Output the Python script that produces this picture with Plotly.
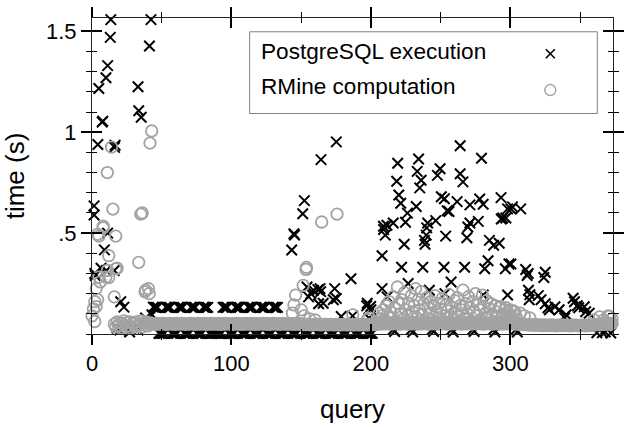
import plotly.graph_objects as go

# ---------------- data ----------------
# PostgreSQL execution: isolated points (query, seconds)
pg_q = [1.5, 1.5, 2, 2.3, 4.2, 4.9, 6.5, 7.3, 7.7, 8.9, 10, 10.3, 11.2, 11.2, 13.1, 13.5, 15.9, 16.2, 16.6,
        20.6, 22.9, 33, 33.5, 35.3, 38.4, 41.2, 42.3, 43,
        18, 20, 24, 27, 30, 33, 36,
        143.2, 144.8, 145.2, 151.1, 152.3, 154.2, 155.3, 157, 158.8, 162, 162.5, 163.5, 164, 164.2, 165.8,
        173, 174, 175.2, 175.2, 178.7, 185.7, 186.9, 197, 197.4, 198.6, 199.8, 200,
        208, 208, 209, 209.1, 210.3, 211.5, 211.6, 216, 218.5, 219.2, 220, 221.4, 222, 223.9, 224.8, 226.2,
        226.7, 232.5, 233.2, 234.2, 235, 236, 237.2, 238.4, 238.8, 239.7, 240, 240.7, 241.9, 246.5, 247.7,
        249.6, 250.5, 252.4, 252.7, 253.1, 253.6, 254.7, 256, 257.5, 261.8, 264, 264, 266, 267.2, 268.8,
        269.5, 271, 271, 277, 278, 279.3, 280.5, 280.5, 281.6, 284, 285, 288, 292, 293.3, 293.5, 294.5,
        296.4, 296.8, 298, 298, 299, 300.4, 300.4, 301.5, 307.4,
        311, 312, 312.8, 325, 324, 313, 314, 313.5, 320, 322, 325, 327, 328, 332, 335, 339, 340, 345, 346,
        348, 349, 353, 354, 356.5]
pg_t = [0.635, 0.59, 0.30, 0.29, 0.939, 1.217, 0.326, 1.05, 1.055, 0.417, 1.27, 0.315, 1.33, 0.50, 1.47, 1.558,
        0.315, 0.925, 0.936, 0.16, 0.133, 1.225, 1.106, 1.074, 0.079, 1.427, 1.558, 0.095,
        0.03, 0.02, 0.04, 0.01, 0.03, 0.02, 0.05,
        0.416, 0.497, 0.49, 0.596, 0.661, 0.233, 0.184, 0.2, 0.217, 0.22, 0.15, 0.225, 0.21, 0.864, 0.152,
        0.17, 0.225, 0.176, 0.952, 0.087, 0.274, 0.09, 0.14, 0.152, 0.079, 0.136, 0.12,
        0.388, 0.225, 0.534, 0.518, 0.49, 0.539, 0.184, 0.55, 0.757, 0.846, 0.689, 0.648, 0.331, 0.445, 0.554, 0.599,
        0.25, 0.632, 0.806, 0.867, 0.724, 0.762, 0.331, 0.464, 0.445, 0.49, 0.526, 0.55, 0.217, 0.562, 0.786,
        0.819, 0.68, 0.331, 0.67, 0.2, 0.485, 0.611, 0.607, 0.258, 0.656, 0.933, 0.794, 0.754, 0.331, 0.477,
        0.53, 0.55, 0.64, 0.558, 0.669, 0.871, 0.643, 0.193, 0.323, 0.363, 0.464, 0.44, 0.45, 0.676, 0.57, 0.575,
        0.323, 0.575, 0.62, 0.193, 0.347, 0.62, 0.347, 0.63, 0.62,
        0.32, 0.29, 0.30, 0.306, 0.28, 0.217, 0.195, 0.17, 0.19, 0.17, 0.15, 0.13, 0.12, 0.135, 0.12, 0.08, 0.095,
        0.177, 0.16, 0.14, 0.13, 0.135, 0.11, 0.103]

# PostgreSQL: plateau queries (~0.13 s)
pg_mid_q = [44, 45, 46, 47, 53, 54, 55, 56, 62, 63, 64, 65, 71, 72, 73, 74, 80, 81, 82, 83,
            94, 95, 96, 97, 103, 104, 105, 106, 112, 113, 114, 115, 121, 122, 123, 124, 130, 131, 132, 133]
pg_mid_t = [0.133, 0.132, 0.131, 0.132, 0.133, 0.132, 0.131, 0.132, 0.133, 0.132, 0.131, 0.132, 0.133, 0.132,
            0.131, 0.132, 0.133, 0.132, 0.131, 0.132,
            0.132, 0.133, 0.131, 0.132, 0.132, 0.133, 0.131, 0.132, 0.133, 0.132, 0.131, 0.132, 0.133, 0.132,
            0.131, 0.132, 0.133, 0.132, 0.131, 0.132]

# PostgreSQL: near-zero queries
pg_low_q = [48, 49, 50, 51, 52, 57, 58, 59, 60, 61, 66, 67, 68, 69, 70, 75, 76, 77, 78, 79, 84, 85, 86, 87, 88,
            89, 90, 91, 92, 93, 98, 99, 100, 101, 102, 107, 108, 109, 110, 111, 116, 117, 118, 119, 120,
            125, 126, 127, 128, 129, 134, 135, 136, 137, 138, 143, 144, 145, 146, 147, 152, 153, 154, 155, 156,
            161, 162, 163, 164, 165, 170, 171, 172, 173, 174, 179, 180, 181, 182, 183, 188, 189, 190, 191, 192,
            197, 198, 199, 200, 201,
            216, 217, 229, 230, 244, 245, 258, 259, 273, 274, 288, 289, 304, 305, 362, 366, 368, 372]
pg_low_t = [0.003, 0.003, 0.003, 0.003, 0.003, 0.003, 0.003, 0.003, 0.003, 0.003, 0.003, 0.003, 0.003, 0.003,
            0.003, 0.003, 0.003, 0.003, 0.003, 0.003, 0.003, 0.003, 0.003, 0.003, 0.003,
            0.003, 0.003, 0.003, 0.003, 0.003, 0.003, 0.003, 0.003, 0.003, 0.003, 0.003, 0.003, 0.003, 0.003,
            0.003, 0.003, 0.003, 0.003, 0.003, 0.003,
            0.003, 0.003, 0.003, 0.003, 0.003, 0.003, 0.003, 0.003, 0.003, 0.003, 0.003, 0.003, 0.003, 0.003,
            0.003, 0.003, 0.003, 0.003, 0.003, 0.003,
            0.003, 0.003, 0.003, 0.003, 0.003, 0.003, 0.003, 0.003, 0.003, 0.003, 0.003, 0.003, 0.003, 0.003,
            0.003, 0.003, 0.003, 0.003, 0.003, 0.003,
            0.003, 0.003, 0.003, 0.003, 0.003,
            0.022, 0.012, 0.022, 0.010, 0.022, 0.012, 0.022, 0.010, 0.022, 0.012, 0.022, 0.010, 0.022, 0.010,
            0.006, 0.006, 0.010, 0.005]

# RMine computation: isolated points
rm_q = [0, 1, 2, 2, 3, 3, 4, 4, 5, 5, 6, 8, 8, 10, 11, 11, 12, 12, 14, 15, 16, 17, 17, 18,
        16, 17, 18, 19, 20, 21, 22, 23, 24, 25, 26, 27, 28, 29, 30, 31, 32, 33, 34, 35, 36, 37, 38, 39, 40, 41,
        33.5, 35, 36, 38, 38.5, 40.5, 41, 41.6, 42.8,
        143.7, 144.8, 146, 151.4, 153.5, 153.8, 164.7, 175.7, 187, 197.4, 198.6, 150, 152, 156, 160,
        297, 300, 303, 307, 310, 314, 360, 364, 367, 370, 371, 373]
rm_t = [0.09, 0.125, 0.062, 0.16, 0.136, 0.225, 0.17, 0.494, 0.485, 0.282, 0.258, 0.526, 0.534, 0.282, 0.80,
        0.315, 0.388, 0.28, 0.926, 0.619, 0.184, 0.485, 0.323, 0.326,
        0.05, 0.035, 0.06, 0.04, 0.055, 0.03, 0.05, 0.065, 0.035, 0.055, 0.04, 0.06, 0.03, 0.05, 0.055, 0.035,
        0.06, 0.04, 0.05, 0.065, 0.035, 0.055, 0.045, 0.06, 0.04, 0.055,
        0.355, 0.594, 0.60, 0.209, 0.217, 0.225, 0.2, 0.946, 1.006,
        0.103, 0.144, 0.193, 0.241, 0.32, 0.33, 0.555, 0.594, 0.095, 0.071, 0.079, 0.12, 0.09, 0.075, 0.07,
        0.13, 0.12, 0.11, 0.103, 0.09, 0.08, 0.07, 0.085, 0.07, 0.09, 0.087, 0.075]

# RMine computation: consecutive queries 42..373 (ms)
rm_base_start = 42
rm_base_ms = [
    52, 49, 51, 50, 48, 52, 50, 49, 51, 53, 50, 48, 51, 50, 52, 49, 50, 51, 48, 52,
    50, 51, 49, 52, 50, 48, 51, 50, 49, 52, 51, 50, 48, 50, 52, 49, 51, 50, 52, 49,
    50, 48, 51, 52, 49, 50, 51, 49, 50, 52, 48, 51, 50, 49, 52, 50, 51, 49, 50, 48,
    51, 50, 52, 49, 50, 51, 48, 50, 52, 49, 51, 50, 49, 52, 50, 48, 51, 50, 49, 51,
    50, 52, 49, 50, 51, 48, 50, 49, 52, 50, 51, 49, 50, 48, 51, 52, 50, 49, 51, 50,
    49, 51, 50, 48, 52, 50, 49, 51, 50, 48, 47, 49, 46, 48, 47, 45, 48, 46, 47, 49,
    46, 48, 45, 47, 46, 48, 47, 45, 46, 48, 47, 46, 45, 47, 48, 46, 45, 47, 46, 48,
    47, 45, 46, 48, 46, 47, 45, 48, 46, 47, 45, 46, 48, 47, 46, 45, 47, 48, 46, 47,
    48, 46, 50, 52, 55, 49, 53, 51, 56, 50, 54, 52, 49, 55, 51, 53, 50, 56, 52, 49,
    54, 51, 55, 50, 53, 49, 56, 52, 50, 54, 51, 55, 49, 53, 52, 50, 56, 51, 54, 49,
    52, 55, 50, 53, 51, 56, 49, 54, 52, 50, 55, 51, 53, 49, 56, 52, 50, 54, 51, 53,
    50, 55, 52, 49, 54, 51, 56, 50, 53, 52, 49, 55, 51, 54, 50, 53, 52, 56, 49, 51,
    54, 50, 53, 52, 55, 49, 51, 54, 50, 53, 52, 49, 55, 51, 50, 54, 52, 49, 53, 51,
    50, 52, 49, 51, 48, 50, 47, 49, 46, 48, 45, 47, 44, 46, 45, 43, 46, 44, 45, 43,
    44, 42, 45, 43, 44, 42, 43, 45, 42, 44, 43, 41, 44, 42, 43, 45, 42, 43, 44, 42,
    43, 41, 44, 42, 43, 44, 42, 41, 43, 44, 42, 43, 41, 44, 42, 45, 43, 44, 46, 45,
    48, 46, 50, 47, 52, 49, 51, 48, 53, 50, 49, 52]

# RMine computation: heavier queries 205..305 (ms)
rm_cloud_start = 205
rm_cloud_ms = [
    60, 103, 75, 90, 120, 70, 140, 95, 160, 110, 80, 185, 130, 60, 233, 150, 100, 170, 75, 205,
    120, 90, 150, 60, 190, 110, 140, 225, 80, 170, 120, 210, 95, 150, 65, 180, 130, 100, 160, 70,
    140, 190, 110, 80, 152, 125, 175, 90, 60, 145, 115, 195, 85, 130, 70, 165, 105, 180, 90, 140,
    120, 217, 75, 150, 100, 185, 130, 65, 160, 110, 200, 90, 145, 120, 70, 193, 135, 100, 165, 80,
    125, 150, 90, 60, 140, 110, 85, 130, 136, 95, 70, 120, 80, 110, 65, 95, 75, 115, 60, 90,
    70]

x_ticks = [0, 100, 200, 300]
y_ticks = [0.5, 1.0, 1.5]
y_tick_text = [".5", "1", "1.5"]
legend_labels = ["PostgreSQL execution", "RMine computation"]

# ---------------- figure ----------------
rm_base_q = list(range(rm_base_start, rm_base_start + len(rm_base_ms)))
rm_base_t = [v / 1000 for v in rm_base_ms]
rm_cloud_q = list(range(rm_cloud_start, rm_cloud_start + len(rm_cloud_ms)))
rm_cloud_t = [v / 1000 for v in rm_cloud_ms]

BLACK = "#000000"
GRAY = "#a3a3a3"
X_RANGE = [0, 373.6]
Y_RANGE = [0, 1.566]
FONT = "Liberation Sans, Arial, sans-serif"

pg_marker = dict(symbol="x-thin", size=10.5, color=BLACK, line=dict(color=BLACK, width=2))
rm_marker = dict(symbol="circle-open", size=11.5, color=GRAY, line=dict(color=GRAY, width=1.8))

fig = go.Figure()
for qq, tt in [(pg_q, pg_t), (pg_mid_q, pg_mid_t), (pg_low_q, pg_low_t)]:
    fig.add_trace(go.Scatter(x=qq, y=tt, mode="markers", marker=pg_marker, showlegend=False,
                             cliponaxis=False, name=legend_labels[0]))
for qq, tt in [(rm_base_q, rm_base_t), (rm_cloud_q, rm_cloud_t), (rm_q, rm_t)]:
    fig.add_trace(go.Scatter(x=qq, y=tt, mode="markers", marker=rm_marker, showlegend=False,
                             cliponaxis=False, name=legend_labels[1], xaxis="x2", yaxis="y2"))

axis_common = dict(showgrid=False, zeroline=False, showline=True, linecolor="#222222", linewidth=1,
                   mirror="allticks", tickcolor="#000000", ticklen=10, tickwidth=2)

fig.update_layout(
    width=631, height=427,
    margin=dict(l=92, r=7, t=13, b=93),
    paper_bgcolor="white", plot_bgcolor="white",
    font=dict(family=FONT, size=22, color="#000000"),
    xaxis=dict(range=X_RANGE, tickvals=x_ticks, ticks="outside", **axis_common,
               minor=dict(ticks="outside", dtick=50, tick0=0, ticklen=5, tickwidth=1, tickcolor="#000000"),
               title=dict(text="query", standoff=24), tickfont=dict(size=22)),
    yaxis=dict(range=Y_RANGE, tickvals=y_ticks, ticktext=y_tick_text, ticks="outside", **axis_common,
               minor=dict(ticks="outside", dtick=0.1, tick0=0, ticklen=5, tickwidth=1, tickcolor="#000000"),
               title=dict(text="time (s)", standoff=14), tickfont=dict(size=22)),
    xaxis2=dict(range=X_RANGE, overlaying="x", anchor="y2", side="bottom", tickvals=x_ticks, ticks="inside",
                showticklabels=False, **axis_common,
                minor=dict(ticks="inside", dtick=50, tick0=0, ticklen=5, tickwidth=1, tickcolor="#000000")),
    yaxis2=dict(range=Y_RANGE, overlaying="y", anchor="x2", side="left", tickvals=y_ticks, ticks="inside",
                showticklabels=False, **axis_common,
                minor=dict(ticks="inside", dtick=0.1, tick0=0, ticklen=5, tickwidth=1, tickcolor="#000000")),
)

# custom legend (symbols to the right of the labels, as in the original)
fig.add_shape(type="rect", xref="paper", yref="paper", x0=0.3026, x1=0.9699, y0=0.6978, y1=0.9564,
              line=dict(color="#808080", width=1), fillcolor="rgba(0,0,0,0)", layer="above")
for lab, yy in zip(legend_labels, [0.895, 0.7835]):
    fig.add_annotation(text=lab, xref="paper", yref="paper", x=0.3214, y=yy, xanchor="left",
                       yanchor="middle", showarrow=False, font=dict(size=22.6, family=FONT, color="#000000"))
lx = 0.8797
fig.add_shape(type="line", xref="paper", yref="paper", xsizemode="pixel", ysizemode="pixel",
              xanchor=lx, yanchor=0.887, x0=-4.5, x1=4.5, y0=-4.5, y1=4.5,
              line=dict(color=BLACK, width=1.6), layer="above")
fig.add_shape(type="line", xref="paper", yref="paper", xsizemode="pixel", ysizemode="pixel",
              xanchor=lx, yanchor=0.887, x0=-4.5, x1=4.5, y0=4.5, y1=-4.5,
              line=dict(color=BLACK, width=1.6), layer="above")
fig.add_shape(type="circle", xref="paper", yref="paper", xsizemode="pixel", ysizemode="pixel",
              xanchor=lx, yanchor=0.772, x0=-5.5, x1=5.5, y0=-5.5, y1=5.5,
              line=dict(color=GRAY, width=1.4), layer="above")

fig.write_html("out.html")
